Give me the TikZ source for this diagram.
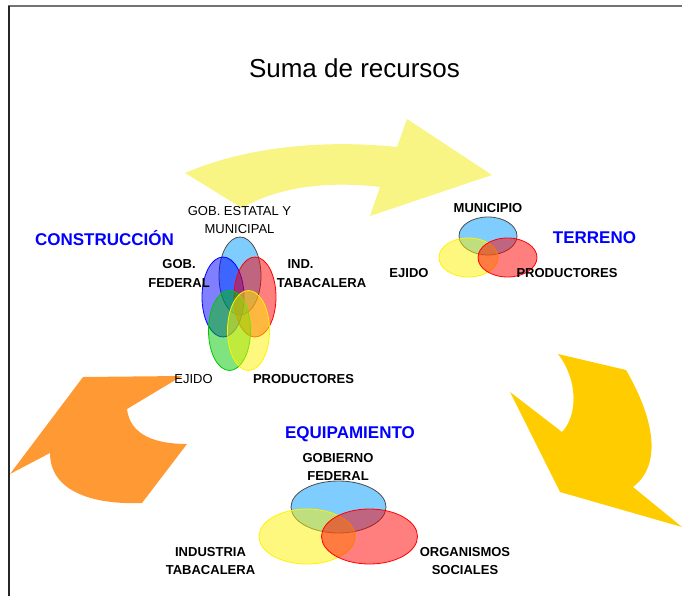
\documentclass[tikz,border=0pt]{standalone}
\usepackage{fontspec}
\setmainfont{Liberation Sans}
\definecolor{flechaamarilla}{HTML}{F8F584}
\definecolor{flechanaranja}{HTML}{FF9933}
\definecolor{flechaoro}{HTML}{FFCC00}
\definecolor{celeste}{RGB}{0,153,255}
\definecolor{verdev}{RGB}{0,200,0}
\begin{document}
\begin{tikzpicture}[x=1pt,y=-1pt,
  lab/.style={font=\fontsize{13}{18.5}\selectfont\bfseries,align=center,inner sep=0pt},
  labn/.style={font=\fontsize{13}{18.5}\selectfont,align=center,inner sep=0pt},
  titulo/.style={font=\fontsize{17}{20}\selectfont\bfseries,text=blue,inner sep=0pt},
  venn/.style={fill opacity=0.5,line width=0.8pt}]
\useasboundingbox (0,0) rectangle (682,596);
% marco
\draw[black!55,line width=1.3pt] (8,6)--(682,6);
\draw[black!85,line width=1.3pt] (9,6)--(9,596);
\node[inner sep=0pt] (suma) at (354.5,68) {\fontsize{26}{30}\selectfont Suma de recursos};
% flechas
\fill[flechaamarilla] (185,173) .. controls (250,145) and (330,140) .. (397,147) -- (407,119) -- (492,175)
  -- (370,216) -- (380,187) .. controls (330,181) and (280,186) .. (242,208) -- cycle;
\fill[flechaoro] (558,354) -- (626,370) .. controls (655,420) and (662,465) .. (633,487) -- (682,527)
  -- (560,492) -- (510,392) -- (562,432) .. controls (578,415) and (578,380) .. cycle;
\fill[flechanaranja] (83,377) -- (182,376) -- (127,409) .. controls (130,435) and (155,444) .. (187,444)
  -- (142,503) .. controls (90,505) and (50,490) .. (50,453) -- (10,474) -- cycle;
% construccion
\draw[venn,fill=celeste,draw=black!70] (240,276) ellipse [x radius=21pt,y radius=39pt];
\draw[venn,fill=blue,draw=blue] (223,297) ellipse [x radius=21pt,y radius=40pt];
\draw[venn,fill=red,draw=red] (255,297) ellipse [x radius=21pt,y radius=40pt];
\draw[venn,fill=verdev,draw=verdev] (229.5,330.5) ellipse [x radius=21pt,y radius=40pt];
\draw[venn,fill=yellow,draw=yellow] (248.5,330.5) ellipse [x radius=21pt,y radius=40pt];
\node[titulo] (construccion) at (104.5,238) {CONSTRUCCIÓN};
\node[labn] (estatal) at (239.5,220) {GOB. ESTATAL Y\\MUNICIPAL};
\node[lab] (gobfed) at (179,273.5) {GOB.\\FEDERAL};
\node[lab] (ind) at (300.5,264) {IND.};
\node[lab] (tabac) at (321.5,283) {TABACALERA};
\node[labn] (ejidoc) at (193.5,379) {EJIDO};
\node[lab] (prodc) at (303.5,379) {PRODUCTORES};
% terreno
\draw[venn,fill=celeste,draw=black!70] (488,236) ellipse [x radius=29pt,y radius=19pt];
\draw[venn,fill=yellow,draw=yellow] (468.5,257.5) ellipse [x radius=29.5pt,y radius=19.5pt];
\draw[venn,fill=red,draw=red] (507.5,257.5) ellipse [x radius=29.5pt,y radius=19.5pt];
\node[titulo] (terreno) at (594.5,238) {TERRENO};
\node[lab] (municipio) at (488,208) {MUNICIPIO};
\node[lab] (ejidot) at (409,273) {EJIDO};
\node[lab] (prodt) at (567,273) {PRODUCTORES};
% equipamiento
\draw[venn,fill=celeste,draw=black!70] (338.5,507) ellipse [x radius=47.5pt,y radius=26pt];
\draw[venn,fill=yellow,draw=yellow] (307,536.5) ellipse [x radius=48pt,y radius=27.5pt];
\draw[venn,fill=red,draw=red] (369.5,536.5) ellipse [x radius=48pt,y radius=27.5pt];
\node[titulo] (equipamiento) at (350,434) {EQUIPAMIENTO};
\node[lab] (gobierno) at (338,467) {GOBIERNO\\FEDERAL};
\node[lab] (industria) at (210.5,561) {INDUSTRIA\\TABACALERA};
\node[lab] (organismos) at (465,561) {ORGANISMOS\\SOCIALES};
\end{tikzpicture}
\end{document}
